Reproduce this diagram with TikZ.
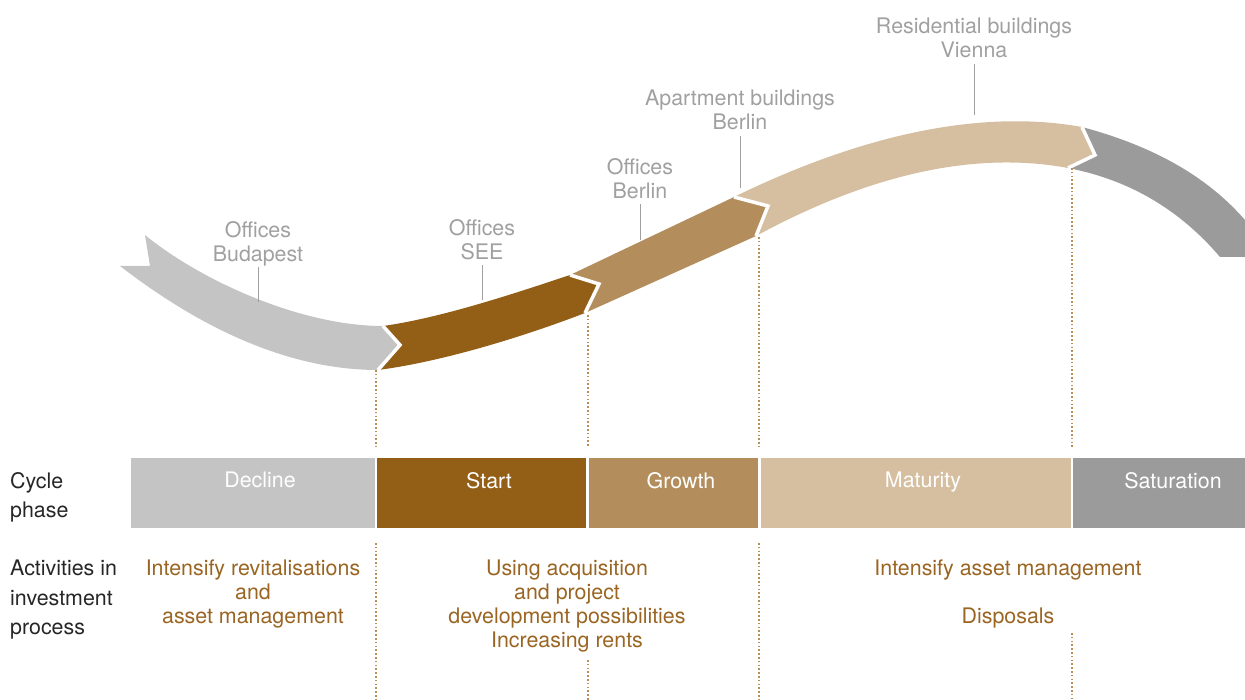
\documentclass[tikz,border=0pt]{standalone}
\usepackage{fontspec}
\setmainfont{TeX Gyre Heros}
\definecolor{declinegray}{HTML}{C3C4C3}
\definecolor{startbrown}{HTML}{935F17}
\definecolor{growthbrown}{HTML}{B38E5C}
\definecolor{maturitysand}{HTML}{D5BFA0}
\definecolor{saturationgray}{HTML}{9A9B9A}
\definecolor{labelgray}{HTML}{A0A0A0}
\definecolor{activitybrown}{HTML}{9A6522}
\definecolor{cutbrown}{HTML}{BB8E58}
\begin{document}
\begin{tikzpicture}[x=1pt, y=-1pt]
      \tikzstyle{place}=[align=center, anchor=north, inner sep=0pt, text=labelgray, font=\fontsize{21.4}{24}\selectfont, execute at end node={\vphantom{p}}]
      \tikzstyle{leader}=[labelgray, line width=1pt, shorten <=1pt]
      \tikzstyle{phase}=[draw=none, inner sep=0pt, outer sep=0pt, minimum height=70]
      \tikzstyle{phasetext}=[anchor=north, inner sep=0pt, text=white, font=\fontsize{21.4}{24}\selectfont]
      \tikzstyle{activity}=[align=center, anchor=north, inner sep=0pt, text=activitybrown, font=\fontsize{21.4}{24}\selectfont]
      \tikzstyle{rowlabel}=[align=left, anchor=north west, inner sep=0pt, text=black!85, font=\fontsize{21.4}{29.5}\selectfont]
      \tikzstyle{cut}=[cutbrown, line width=1.6pt, dash pattern=on 1.6pt off 2.2pt]
      \tikzstyle{chevron}=[white, line width=3.5pt, line join=miter]

      \useasboundingbox (0,0) rectangle (1245,700);

      % joints of the cycle band
      \coordinate (tail-top) at (145,235);
      \coordinate (tail-notch) at (150,266);
      \coordinate (tail-bot) at (120,266);
      \coordinate (u1) at (383,326); \coordinate (t1) at (400,345); \coordinate (l1) at (378,370);
      \coordinate (u2) at (570,275); \coordinate (t2) at (599,284); \coordinate (l2) at (585,313);
      \coordinate (u3) at (734,197); \coordinate (t3) at (768,206); \coordinate (l3) at (756,236);
      \coordinate (u4) at (1082,127); \coordinate (t4) at (1095,155); \coordinate (l4) at (1068,168);

      % draw band
      \fill [declinegray] (tail-top) .. controls (200,280) and (300,326) .. (u1) -- (t1) -- (l1)
            .. controls (280,370) and (190,320) .. (tail-bot) -- (tail-notch) -- cycle;
      \fill [startbrown] (u1) .. controls (440,318) and (510,295) .. (u2) -- (t2) -- (l2)
            .. controls (520,338) and (440,362) .. (l1) -- (t1) -- cycle;
      \fill [growthbrown] (u2) -- (u3) -- (t3) -- (l3) -- (l2) -- (t2) -- cycle;
      \fill [maturitysand] (u3) .. controls (830,150) and (960,105) .. (u4) -- (t4) -- (l4)
            .. controls (960,148) and (850,185) .. (l3) -- (t3) -- cycle;
      \fill [saturationgray] (u4) .. controls (1160,148) and (1210,180) .. (1245,220) -- (1245,257)
            -- (1220,257) .. controls (1180,210) and (1130,180) .. (l4) -- (t4) -- cycle;

      \foreach \i in {1,2,3,4}
      \draw [chevron] (u\i) -- (t\i) -- (l\i);

      % draw places
      \foreach \x/\y/\t/\p [count=\i] in {258/221/{Offices\\Budapest}/302, 482/219/{Offices\\SEE}/300,
            640/158/{Offices\\Berlin}/240, 740/90/{Apartment buildings\\Berlin}/188,
            974/18/{Residential buildings\\Vienna}/115} {
          \node [place] (place-\i) at (\x,\y) {\t};
          \coordinate (pin-\i) at (\x,\p);
          \draw [leader] (place-\i.south) -- (pin-\i);};

      % draw cuts
      \foreach \x/\a/\b [count=\i] in {376/370/543, 588/315/660, 759/237/543, 1072/168/633} {
          \coordinate (cut-\i-a) at (\x,\a);
          \coordinate (cut-\i-b) at (\x,447);
          \coordinate (cut-\i-c) at (\x,\b);
          \coordinate (cut-\i-d) at (\x,700);
          \draw [cut] (cut-\i-a) -- (cut-\i-b);
          \draw [cut] (cut-\i-c) -- (cut-\i-d);};

      % draw phases
      \foreach \l/\w/\c/\tx/\t [count=\i] in {131/244/declinegray/260/Decline, 377/209/startbrown/489/Start,
            589/169/growthbrown/681/Growth, 761/310/maturitysand/923/Maturity,
            1073/172/saturationgray/1173/Saturation} {
          \node [phase, fill=\c, minimum width=\w] (phase-\i) at (\l+\w/2,493) {};
          \node [phasetext] (phasetext-\i) at (\tx,472) {\t};};

      % draw text
      \node [rowlabel] (row-1) at (10,472) {Cycle\\phase};
      \node [rowlabel] (row-2) at (10,560) {Activities in\\investment\\process};

      \node [activity] (act-1) at (253,560) {Intensify revitalisations\\and\\asset management};
      \node [activity] (act-2) at (567,560) {Using acquisition\\and project\\development possibilities\\Increasing rents};
      \node [activity] (act-3) at (1008,560) {Intensify asset management\\[24pt]Disposals};

    \end{tikzpicture}
\end{document}
